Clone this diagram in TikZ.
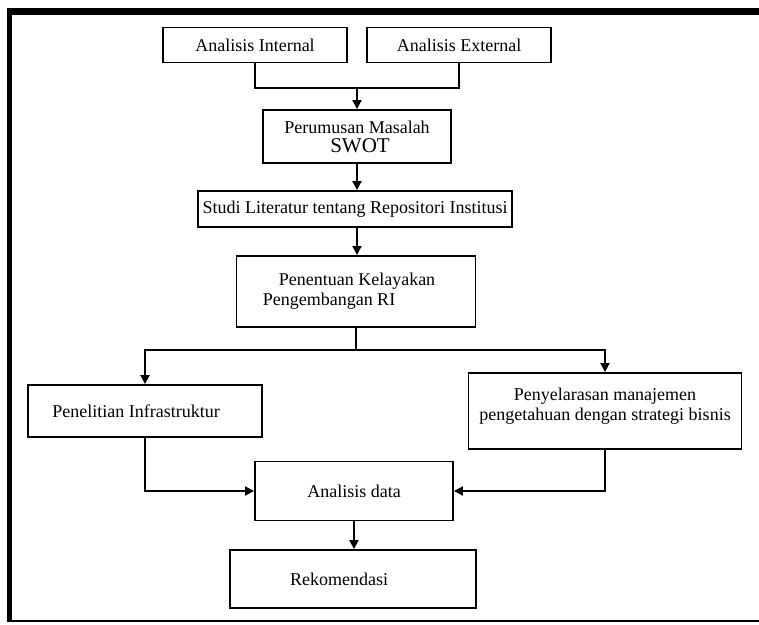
\documentclass[tikz,border=0pt]{standalone}
\usepackage{fontspec}
\setmainfont{Liberation Serif}
\usetikzlibrary{arrows.meta}

\begin{document}
\begin{tikzpicture}[x=1pt, y=-1pt, line width=1.9pt,
    font=\fontsize{18}{20}\selectfont,
    box/.style={draw, inner sep=0pt, align=center},
    arr/.style={-{Triangle[length=9pt, width=9pt]}}]

  \useasboundingbox (0,0) rectangle (759,624);

  % ---------- frame ----------
  \fill (7,8) rectangle (759,15);
  \fill (7,8) rectangle (12,622);
  \draw[line width=2pt] (7,621) -- (759,621);

  % ---------- boxes ----------
  \node[box, minimum width=184pt, minimum height=35pt] (intern) at (255,45) {Analisis Internal};
  \node[box, minimum width=184pt, minimum height=35pt] (extern) at (459,45) {Analisis External};
  \node[box, minimum width=188pt, minimum height=53pt] (swot) at (357,136.5)
    {Perumusan Masalah\\[-1pt]\hspace*{6pt}{\fontsize{21}{22}\selectfont SWOT}};
  \node[box, minimum width=314pt, minimum height=36pt] (studi) at (355,209)
    {Studi Literatur tentang Repositori Institusi};
  \node[box, minimum width=239pt, minimum height=71pt, align=left] (layak) at (356,291.5)
    {\hspace*{16pt}Penentuan Kelayakan\hspace*{14pt}\\Pengembangan RI};
  \node[box, minimum width=234pt, minimum height=52pt] (infra) at (145,411)
    {Penelitian Infrastruktur\hspace*{18pt}};
  \node[box, minimum width=273pt, minimum height=76pt] (selaras) at (605,411)
    {Penyelarasan manajemen\\pengetahuan dengan strategi bisnis\\[-6pt]};
  \node[box, minimum width=198pt, minimum height=59pt] (data) at (354,491) {Analisis data};
  \node[box, minimum width=246pt, minimum height=58pt] (rekom) at (353,579)
    {Rekomendasi\hspace*{28pt}};

  % ---------- connectors ----------
  \coordinate (merge) at (357,88);
  \draw (intern.south) |- (merge) -| (extern.south);
  \draw[arr] (merge) -- (swot.north);
  \draw[arr] (swot.south) -- (swot.south |- studi.north);
  \draw[arr] (studi.south -| swot.south) -- (layak.north -| swot.south);
  \draw (layak.south) -- ++(0,22) coordinate (split);
  \draw[arr] (split) -| (infra.north);
  \draw[arr] (split) -| (selaras.north);
  \draw[arr] (infra.south) |- (data.west);
  \draw[arr] (selaras.south) |- (data.east);
  \draw[arr] (data.south) -- (data.south |- rekom.north);

\end{tikzpicture}
\end{document}
